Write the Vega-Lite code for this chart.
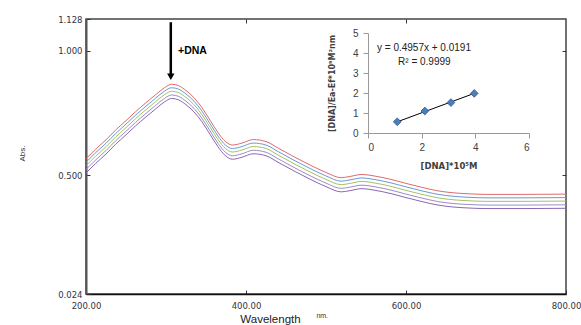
{
  "$schema": "https://vega.github.io/schema/vega-lite/v6.json",
  "width": 480,
  "height": 275,
  "autosize": {"type": "none"},
  "padding": {"left": 86, "top": 19, "right": 15, "bottom": 31},
  "background": "white",
  "config": {
    "view": {"stroke": "#444", "strokeWidth": 1.5},
    "axis": {"grid": false}
  },
  "datasets": {
    "spectra": [
      {"nm": 200, "a": 0.567, "b": 0.553, "c": 0.539, "d": 0.524, "e": 0.510},
      {"nm": 212, "a": 0.605, "b": 0.591, "c": 0.577, "d": 0.562, "e": 0.548},
      {"nm": 225, "a": 0.643, "b": 0.629, "c": 0.615, "d": 0.600, "e": 0.586},
      {"nm": 237, "a": 0.682, "b": 0.668, "c": 0.654, "d": 0.639, "e": 0.625},
      {"nm": 250, "a": 0.720, "b": 0.706, "c": 0.692, "d": 0.677, "e": 0.663},
      {"nm": 262, "a": 0.756, "b": 0.742, "c": 0.728, "d": 0.713, "e": 0.699},
      {"nm": 275, "a": 0.792, "b": 0.778, "c": 0.764, "d": 0.749, "e": 0.735},
      {"nm": 287, "a": 0.824, "b": 0.810, "c": 0.796, "d": 0.781, "e": 0.767},
      {"nm": 298, "a": 0.852, "b": 0.838, "c": 0.824, "d": 0.809, "e": 0.795},
      {"nm": 307, "a": 0.866, "b": 0.852, "c": 0.838, "d": 0.823, "e": 0.809},
      {"nm": 316, "a": 0.860, "b": 0.846, "c": 0.832, "d": 0.817, "e": 0.803},
      {"nm": 325, "a": 0.841, "b": 0.827, "c": 0.813, "d": 0.798, "e": 0.784},
      {"nm": 335, "a": 0.812, "b": 0.798, "c": 0.784, "d": 0.769, "e": 0.755},
      {"nm": 345, "a": 0.772, "b": 0.758, "c": 0.744, "d": 0.729, "e": 0.715},
      {"nm": 355, "a": 0.722, "b": 0.708, "c": 0.694, "d": 0.679, "e": 0.665},
      {"nm": 365, "a": 0.672, "b": 0.658, "c": 0.644, "d": 0.629, "e": 0.615},
      {"nm": 374, "a": 0.637, "b": 0.623, "c": 0.609, "d": 0.594, "e": 0.580},
      {"nm": 383, "a": 0.622, "b": 0.608, "c": 0.594, "d": 0.579, "e": 0.565},
      {"nm": 395, "a": 0.630, "b": 0.616, "c": 0.602, "d": 0.587, "e": 0.573},
      {"nm": 409, "a": 0.644, "b": 0.630, "c": 0.616, "d": 0.601, "e": 0.587},
      {"nm": 425, "a": 0.636, "b": 0.622, "c": 0.608, "d": 0.593, "e": 0.579},
      {"nm": 440, "a": 0.610, "b": 0.596, "c": 0.582, "d": 0.567, "e": 0.553},
      {"nm": 460, "a": 0.575, "b": 0.561, "c": 0.547, "d": 0.532, "e": 0.518},
      {"nm": 480, "a": 0.542, "b": 0.528, "c": 0.514, "d": 0.499, "e": 0.485},
      {"nm": 500, "a": 0.512, "b": 0.498, "c": 0.484, "d": 0.469, "e": 0.455},
      {"nm": 519, "a": 0.491, "b": 0.477, "c": 0.463, "d": 0.448, "e": 0.434},
      {"nm": 530, "a": 0.496, "b": 0.482, "c": 0.468, "d": 0.453, "e": 0.439},
      {"nm": 545, "a": 0.504, "b": 0.490, "c": 0.476, "d": 0.461, "e": 0.447},
      {"nm": 560, "a": 0.498, "b": 0.484, "c": 0.470, "d": 0.455, "e": 0.441},
      {"nm": 580, "a": 0.485, "b": 0.471, "c": 0.457, "d": 0.442, "e": 0.428},
      {"nm": 600, "a": 0.468, "b": 0.454, "c": 0.440, "d": 0.425, "e": 0.411},
      {"nm": 620, "a": 0.452, "b": 0.438, "c": 0.424, "d": 0.409, "e": 0.395},
      {"nm": 640, "a": 0.438, "b": 0.424, "c": 0.410, "d": 0.395, "e": 0.381},
      {"nm": 660, "a": 0.430, "b": 0.416, "c": 0.402, "d": 0.387, "e": 0.373},
      {"nm": 680, "a": 0.426, "b": 0.412, "c": 0.398, "d": 0.383, "e": 0.369},
      {"nm": 700, "a": 0.424, "b": 0.410, "c": 0.396, "d": 0.381, "e": 0.367},
      {"nm": 750, "a": 0.424, "b": 0.410, "c": 0.396, "d": 0.381, "e": 0.367},
      {"nm": 800, "a": 0.425, "b": 0.411, "c": 0.397, "d": 0.382, "e": 0.368}
    ],
    "points": [
      {"conc": 1.09, "ratio": 0.56},
      {"conc": 2.12, "ratio": 1.10},
      {"conc": 3.09, "ratio": 1.52},
      {"conc": 3.96, "ratio": 1.98}
    ],
    "fit": [
      {"conc": 1.09, "ratio": 0.559},
      {"conc": 3.96, "ratio": 1.982}
    ]
  },
  "layer": [
    {
      "data": {"name": "spectra"},
      "transform": [{"fold": ["a", "b", "c", "d", "e"], "as": ["series", "abs"]}],
      "mark": {"type": "line", "interpolate": "monotone", "strokeWidth": 1, "clip": true},
      "encoding": {
        "x": {
          "field": "nm", "type": "quantitative",
          "scale": {"domain": [200, 800], "nice": false, "zero": false},
          "axis": {
            "orient": "bottom", "values": [200, 400, 600, 800], "format": ".2f",
            "tickSize": -4, "tickColor": "#333", "domainColor": "#111", "domainWidth": 1.5,
            "labelFont": "DejaVu Sans", "labelFontSize": 8.5, "labelColor": "#333344",
            "labelPadding": 11, "labelFlush": false, "labelBound": false,
            "title": "Wavelength", "titleFont": "Liberation Sans", "titleFontSize": 11.5,
            "titleFontWeight": "normal", "titleColor": "#222", "titleX": 184, "titleY": 25,
            "titleBaseline": "middle", "titleAlign": "center"
          }
        },
        "y": {
          "field": "abs", "type": "quantitative",
          "scale": {"domain": [0.024, 1.128], "nice": false, "zero": false},
          "axis": {
            "orient": "left", "values": [0.024, 0.5, 1.0, 1.128], "format": ".3f",
            "tickSize": -4, "tickColor": "#333", "domainColor": "#555", "domainWidth": 2,
            "labelFont": "DejaVu Sans", "labelFontSize": 8.5, "labelColor": "#333344",
            "labelPadding": 8, "labelFlush": false, "labelBound": false,
            "title": "Abs.", "titleFont": "Liberation Sans", "titleFontSize": 8,
            "titleFontWeight": "normal", "titleColor": "#333355", "titleAngle": -90,
            "titleX": -64, "titleY": 134, "titleBaseline": "middle", "titleAlign": "center"
          }
        },
        "color": {
          "field": "series", "type": "nominal",
          "scale": {"domain": ["a", "b", "c", "d", "e"], "range": ["#E06B6B", "#6A9AD4", "#A4C263", "#A08CC8", "#8868B5"]},
          "legend": null
        },
        "detail": {"field": "series"}
      }
    },
    {
      "data": {"values": [{}]},
      "layer": [
        {
          "mark": {"type": "rule", "color": "black", "strokeWidth": 2.5},
          "encoding": {
            "x": {
              "datum": 306, "type": "quantitative",
              "scale": {"domain": [200, 800], "nice": false, "zero": false},
              "axis": {"orient": "top", "values": [400, 600], "labels": false, "tickSize": -4, "tickColor": "#333", "domain": false, "title": null}
            },
            "y": {
              "datum": 1.115, "type": "quantitative",
              "scale": {"domain": [0.024, 1.128], "nice": false, "zero": false},
              "axis": {"orient": "right", "values": [0.5, 1.0], "labels": false, "tickSize": -4, "tickColor": "#333", "domain": false, "title": null}
            },
            "y2": {"datum": 0.905}
          }
        },
        {
          "mark": {"type": "point", "shape": "triangle-down", "filled": true, "color": "black", "size": 55, "opacity": 1},
          "encoding": {
            "x": {"datum": 306, "type": "quantitative"},
            "y": {"datum": 0.896, "type": "quantitative"}
          }
        },
        {
          "mark": {"type": "text", "text": "+DNA", "align": "left", "baseline": "middle", "font": "Liberation Sans", "fontSize": 10.5, "fontWeight": "bold", "color": "black"},
          "encoding": {
            "x": {"datum": 315, "type": "quantitative"},
            "y": {"datum": 1.0, "type": "quantitative"}
          }
        },
        {
          "mark": {"type": "text", "text": "nm.", "align": "left", "baseline": "middle", "font": "Liberation Sans", "fontSize": 7, "color": "#333"},
          "encoding": {
            "x": {"datum": 488, "type": "quantitative"},
            "y": {"datum": -0.066, "type": "quantitative"}
          }
        }
      ]
    },
    {
      "layer": [
        {
          "data": {"name": "fit"},
          "mark": {"type": "line", "color": "black", "strokeWidth": 1},
          "encoding": {
            "x": {
              "field": "conc", "type": "quantitative",
              "scale": {"domain": [0, 6], "range": [282, 443], "nice": false, "zero": false},
              "axis": {
                "orient": "bottom", "offset": -161, "values": [0, 2, 4, 6], "format": "d", "tickSize": 5,
                "tickColor": "#999", "domainColor": "#999", "domainWidth": 1,
                "labelFont": "Liberation Sans", "labelFontSize": 10, "labelColor": "#404040", "labelPadding": 4,
                "title": "[DNA]*10⁵M", "titleFont": "DejaVu Sans", "titleFontSize": 8.5,
                "titleFontWeight": "bold", "titleColor": "#404040", "titleY": 32, "titleBaseline": "middle"
              }
            },
            "y": {
              "field": "ratio", "type": "quantitative",
              "scale": {"domain": [0, 5], "range": [114, 14], "nice": false, "zero": false},
              "axis": {
                "orient": "left", "offset": -282, "values": [0, 1, 2, 3, 4, 5], "format": "d", "tickSize": 5,
                "tickColor": "#999", "domainColor": "#999", "domainWidth": 1,
                "labelFont": "Liberation Sans", "labelFontSize": 10, "labelColor": "#404040", "labelPadding": 5,
                "title": "[DNA]/Ea-Ef*10⁹M²nm", "titleFont": "DejaVu Sans", "titleFontSize": 8,
                "titleFontWeight": "bold", "titleColor": "#404040", "titleAngle": -90,
                "titleX": -36, "titleY": 64, "titleBaseline": "middle", "titleAlign": "center"
              }
            }
          }
        },
        {
          "data": {"name": "points"},
          "mark": {"type": "point", "shape": "diamond", "filled": true, "fill": "#4A7EBB", "stroke": "#2F5597", "strokeWidth": 0.8, "size": 60, "opacity": 1},
          "encoding": {
            "x": {"field": "conc", "type": "quantitative"},
            "y": {"field": "ratio", "type": "quantitative"}
          }
        },
        {
          "data": {"values": [{}]},
          "mark": {"type": "text", "text": "y = 0.4957x + 0.0191", "align": "left", "baseline": "middle", "font": "Liberation Sans", "fontSize": 10, "color": "#222"},
          "encoding": {
            "x": {"datum": 0.335, "type": "quantitative"},
            "y": {"datum": 4.25, "type": "quantitative"}
          }
        },
        {
          "data": {"values": [{}]},
          "mark": {"type": "text", "text": "R² = 0.9999", "align": "left", "baseline": "middle", "font": "Liberation Sans", "fontSize": 10, "color": "#222"},
          "encoding": {
            "x": {"datum": 1.12, "type": "quantitative"},
            "y": {"datum": 3.55, "type": "quantitative"}
          }
        }
      ]
    }
  ],
  "resolve": {
    "scale": {"x": "independent", "y": "independent", "color": "independent"},
    "axis": {"x": "independent", "y": "independent"}
  }
}
